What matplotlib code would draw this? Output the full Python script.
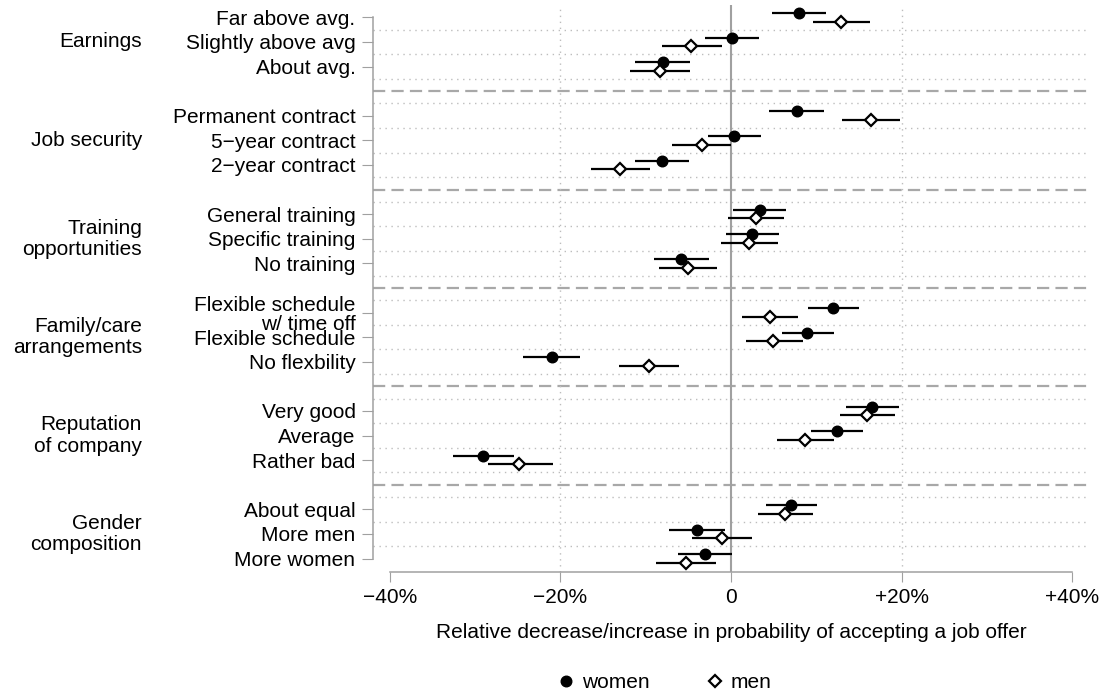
import matplotlib
matplotlib.use("Agg")
import matplotlib.pyplot as plt
from matplotlib.lines import Line2D
from matplotlib.transforms import blended_transform_factory

plt.rcParams['font.family'] = ['Liberation Sans', 'DejaVu Sans']

# ---- data ----
groups = ["Earnings", "Job security", "Training\nopportunities",
          "Family/care\narrangements", "Reputation\nof company", "Gender\ncomposition"]
items = [
    ["Far above avg.", "Slightly above avg", "About avg."],
    ["Permanent contract", "5\u2212year contract", "2\u2212year contract"],
    ["General training", "Specific training", "No training"],
    ["Flexible schedule\nw/ time off", "Flexible schedule", "No flexbility"],
    ["Very good", "Average", "Rather bad"],
    ["About equal", "More men", "More women"],
]
women_est = [7.97, 0.06, -8.00, 7.70, 0.35, -8.05, 3.40, 2.46, -5.86,
             11.95, 8.93, -21.01, 16.56, 12.44, -29.06, 7.03, -3.98, -3.09]
women_lo = [4.80, -3.10, -11.25, 4.49, -2.75, -11.25, 0.27, -0.59, -8.99,
            8.99, 5.98, -24.41, 13.53, 9.37, -32.63, 4.10, -7.26, -6.25]
women_hi = [11.17, 3.28, -4.80, 10.93, 3.55, -4.89, 6.44, 5.62, -2.58,
            14.96, 12.06, -17.66, 19.63, 15.51, -25.45, 10.08, -0.66, 0.08]
men_est = [12.92, -4.69, -8.32, 16.44, -3.43, -12.97, 2.89, 2.11, -5.00,
           4.61, 4.92, -9.66, 15.95, 8.66, -24.79, 6.37, -1.01, -5.27]
men_lo = [9.57, -8.12, -11.83, 13.04, -6.88, -16.44, -0.39, -1.17, -8.47,
          1.25, 1.70, -13.11, 12.77, 5.43, -28.52, 3.12, -4.57, -8.79]
men_hi = [16.32, -1.09, -4.80, 19.84, 0.00, -9.49, 6.25, 5.47, -1.60,
          7.89, 8.39, -6.09, 19.24, 12.06, -20.89, 9.65, 2.50, -1.80]
xticks = [-40, -20, 0, 20, 40]
xticklabels = ["\u221240%", "\u221220%", "0", "+20%", "+40%"]

# ---- layout ----
W, H = 1114, 700
fig = plt.figure(figsize=(W / 100, H / 100), dpi=100)
L, R, T, B = 373, 1089, 5, 572
ax = fig.add_axes([L / W, 1 - B / H, (R - L) / W, (B - T) / H])
ax.set_xlim(-41.95, 41.95)
ax.set_ylim(45.09, -1.0)

ypos = []
labels = []
for g, its in enumerate(items):
    for i, lab in enumerate(its):
        ypos.append(8 * g + 2 * i)
        labels.append(lab)

grid_c = '#BDBDBD'
axis_c = '#A0A0A0'
# dotted horizontal lines
for k in range(1, 44, 2):
    ax.axhline(k, color=grid_c, lw=1.0, ls=(0, (1, 3.3)), zorder=1)
# dashed separators
for g in range(1, len(groups)):
    ax.axhline(8 * g - 2, color='#A8A8A8', lw=1.6, ls=(0, (5.5, 2.8)), zorder=1)
# vertical grid
for v in (-20, 20):
    ax.axvline(v, color=grid_c, lw=1.0, ls=(0, (1, 3.3)), zorder=1)
ax.axvline(0, color=axis_c, lw=1.5, zorder=1)

off = 0.35
for y, e, lo, hi in zip(ypos, women_est, women_lo, women_hi):
    ax.plot([lo, hi], [y - off, y - off], color='black', lw=1.6, solid_capstyle='butt', zorder=3)
for y, e, lo, hi in zip(ypos, men_est, men_lo, men_hi):
    ax.plot([lo, hi], [y + off, y + off], color='black', lw=1.6, solid_capstyle='butt', zorder=3)
ax.plot(women_est, [y - off for y in ypos], 'o', color='black', ms=7.6, zorder=4, ls='none')
ax.plot(men_est, [y + off for y in ypos], 'D', mfc='white', mec='black', mew=1.6, ms=6.0, zorder=5, ls='none')

# axes styling
for s in ('top', 'right'):
    ax.spines[s].set_visible(False)
ax.spines['left'].set_bounds(0, 44)
ax.spines['bottom'].set_bounds(-40, 40)
for s in ('left', 'bottom'):
    ax.spines[s].set_color(axis_c)
    ax.spines[s].set_linewidth(1.1)
ax.set_yticks(ypos)
ax.set_yticklabels(labels, fontsize=15, linespacing=1.02)
ax.set_xticks(xticks)
ax.set_xticklabels(xticklabels, fontsize=15)
ax.tick_params(axis='y', length=7.6, width=0.8, color=axis_c, pad=5)
ax.tick_params(axis='x', length=7.2, width=0.8, color=axis_c, pad=4)

tr = blended_transform_factory(fig.transFigure, ax.transData)
for g, name in enumerate(groups):
    ax.text(142 / W, 8 * g + 2, name, transform=tr, ha='right', va='center',
            fontsize=15, linespacing=1.15, multialignment='right')

fig.text(731 / W, 1 - 632 / H, "Relative decrease/increase in probability of accepting a job offer",
         ha='center', va='center', fontsize=15)

handles = [Line2D([], [], marker='o', color='black', ls='none', ms=7.6),
           Line2D([], [], marker='D', mfc='white', mec='black', mew=1.6, ls='none', ms=6.0)]
fig.legend(handles, ["women", "men"], loc='center', bbox_to_anchor=(665 / W, 1 - 683 / H),
           ncol=2, frameon=False, fontsize=15, handlelength=0.8, handletextpad=0.35,
           columnspacing=2.75)

fig.savefig("out.png", dpi=100)
